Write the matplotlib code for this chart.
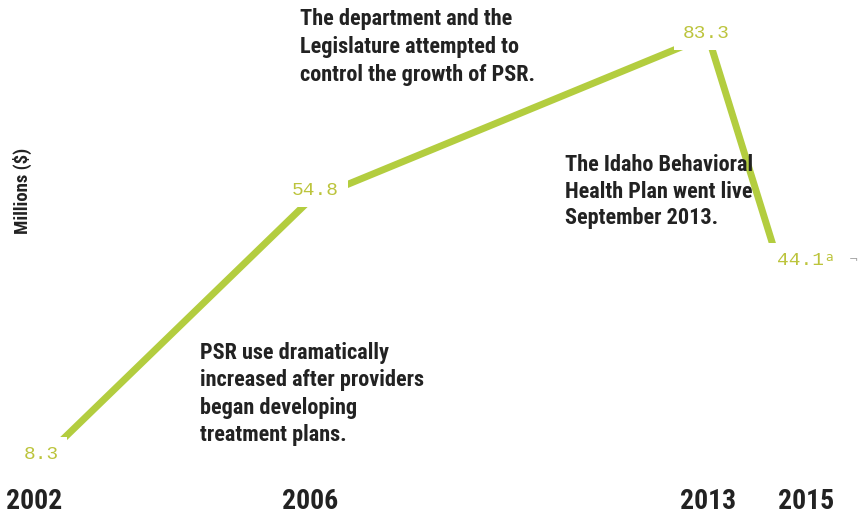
import matplotlib; matplotlib.use("Agg")
import matplotlib.pyplot as plt
import matplotlib.transforms as mtransforms
import numpy as np

# PSR spending, millions of dollars
years = [2002, 2006, 2013, 2015]
values = [8.3, 54.8, 83.3, 44.1]
value_labels = ["8.3", "54.8", "83.3", "44.1"]
year_labels = ["2002", "2006", "2013", "2015"]
notes = [
    "The department and the\nLegislature attempted to\ncontrol the growth of PSR.",
    "The Idaho Behavioral\nHealth Plan went live\nSeptember 2013.",
    "PSR use dramatically\nincreased after providers\nbegan developing\ntreatment plans.",
]

# the original x axis is not evenly spaced: piecewise scale, year -> pixel
KNOT_YR = [1990, 2002, 2006, 2013, 2015, 2030]
KNOT_PX = [34 - 12 * 69, 34, 310, 708, 778, 778 + 15 * 35]
fwd = lambda x: np.interp(x, KNOT_YR, KNOT_PX)
inv = lambda p: np.interp(p, KNOT_PX, KNOT_YR)

LINE = "#b3cd3f"; NUM = "#bcc43c"
FAM = ["Roboto Condensed", "Liberation Sans Narrow", "Roboto", "DejaVu Sans"]
BOLD = dict(family=FAM, weight="bold", color="#222222")

fig = plt.figure(figsize=(8.66, 5.16), dpi=100)
ax = fig.add_axes([0, 0, 1, 1])
ax.set_xscale("function", functions=(fwd, inv))
ax.set_xlim(inv(0), inv(866)); ax.set_ylim(-0.18, 89.56)
ax.axis("off")

ax.plot(years, values, color=LINE, lw=5.0, solid_capstyle="butt", zorder=2)

offs = [(5, 9), (4, 7), (-1, 2), (16, 1)]
for x, v, s, o in zip(years, values, value_labels, offs):
    ax.annotate(s, (x, v), xytext=o, textcoords="offset points", ha="center", va="center",
                fontsize=14, family="Liberation Mono", color=NUM, zorder=4,
                bbox=dict(boxstyle="square,pad=0.45", fc="white", ec="none"))
ax.annotate("a", (years[-1], values[-1]), xytext=(37, 3), textcoords="offset points",
            ha="center", va="center", fontsize=9, color=NUM, zorder=5)
ax.annotate("¬", (years[-1], values[-1]), xytext=(54, 1), textcoords="offset points",
            ha="center", va="center", fontsize=8, color="#999999", zorder=5)

tr = mtransforms.blended_transform_factory(ax.transData, ax.transAxes)
for i, (x, s) in enumerate(zip(years, year_labels)):
    ax.text(x, 0.028, s, transform=tr, ha="left" if i == len(years) - 1 else "center",
            va="center", fontsize=20, **BOLD)

fig.text(0.026, 0.63, "Millions ($)", rotation=90, ha="center", va="center", fontsize=13.5, **BOLD)

for (fx, fy), s, ls in zip([(0.346, 0.985), (0.652, 0.702), (0.231, 0.338)], notes, [1.36, 1.28, 1.33]):
    fig.text(fx, fy, s, ha="left", va="top", fontsize=16, linespacing=ls, **BOLD)

fig.savefig("out.png", dpi=100)
